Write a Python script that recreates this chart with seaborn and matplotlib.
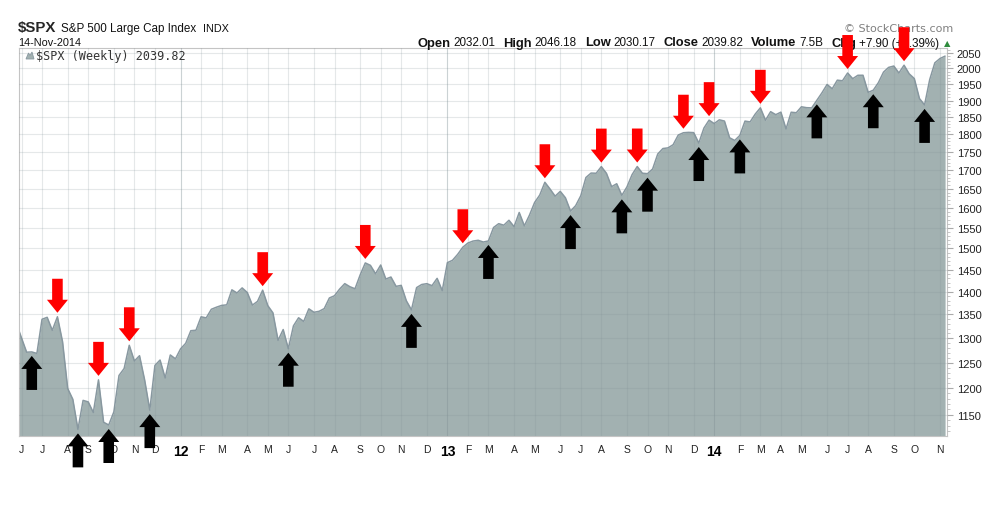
import numpy as np
import pandas as pd
import matplotlib
matplotlib.use("Agg")
import matplotlib.pyplot as plt
import matplotlib.dates as mdates
import matplotlib.transforms as mtransforms
from matplotlib.patches import Polygon
from matplotlib.ticker import FixedLocator, NullFormatter, FuncFormatter
import seaborn as sns

# ---------------- data ----------------
start_date = "2011-05-27"
closes = [
    1331.10, 1300.16, 1270.98, 1271.50, 1268.45, 1339.67, 1343.80, 1316.14, 1345.02, 1292.28,
    1199.38, 1178.81, 1123.53, 1176.80, 1173.97, 1154.23, 1216.01, 1136.43, 1131.42, 1155.46,
    1224.58, 1238.25, 1285.09, 1253.23, 1263.85, 1215.65, 1158.67, 1244.28, 1255.19, 1219.66,
    1265.33, 1257.60, 1277.81, 1289.09, 1315.38, 1316.33, 1344.90, 1342.64, 1361.23, 1365.74,
    1369.63, 1370.87, 1404.17, 1397.11, 1408.47, 1398.08, 1370.26, 1378.53, 1403.36, 1369.10,
    1353.39, 1295.22, 1317.82, 1278.04, 1325.66, 1342.84, 1335.02, 1362.16, 1354.68, 1356.78,
    1362.66, 1385.97, 1390.99, 1405.87, 1418.16, 1411.13, 1406.58, 1437.92, 1465.77, 1460.15,
    1440.67, 1460.93, 1428.59, 1433.19, 1411.94, 1414.20, 1379.85, 1359.88, 1409.15, 1416.18,
    1418.07, 1413.58, 1430.15, 1402.43, 1466.47, 1472.05, 1485.98, 1502.96, 1513.17, 1517.93,
    1519.79, 1515.60, 1518.20, 1551.18, 1560.70, 1556.89, 1569.19, 1553.28, 1588.85, 1555.25,
    1582.24, 1614.42, 1633.70, 1667.47, 1649.60, 1630.74, 1643.38, 1626.73, 1592.43, 1606.28,
    1631.89, 1680.19, 1692.09, 1691.65, 1709.67, 1691.42, 1655.83, 1663.50, 1632.97, 1655.17,
    1687.99, 1709.91, 1691.75, 1690.50, 1703.20, 1744.50, 1759.77, 1761.64, 1770.61, 1798.18,
    1804.76, 1805.81, 1805.09, 1775.32, 1818.32, 1841.40, 1831.37, 1842.37, 1838.70, 1790.29,
    1782.59, 1797.02, 1838.63, 1836.25, 1859.45, 1878.04, 1841.13, 1866.52, 1857.62, 1865.09,
    1815.69, 1864.85, 1863.40, 1881.14, 1878.48, 1877.86, 1900.53, 1923.57, 1949.44, 1936.16,
    1962.87, 1960.96, 1985.44, 1967.57, 1978.22, 1978.34, 1925.15, 1931.59, 1955.06, 1988.40,
    2003.37, 2007.71, 1985.54, 2010.40, 1982.85, 1967.90, 1906.13, 1886.76, 1964.58, 2018.05,
    2031.92, 2039.82,
]
peak_dates = ["2011-07-22", "2011-09-16", "2011-10-28", "2012-04-27", "2012-09-14",
              "2013-01-25", "2013-05-17", "2013-08-02", "2013-09-20", "2013-11-22",
              "2013-12-27", "2014-03-07", "2014-07-04", "2014-09-19"]
trough_dates = ["2011-06-17", "2011-08-19", "2011-09-30", "2011-11-25", "2012-06-01",
                "2012-11-16", "2013-03-01", "2013-06-21", "2013-08-30", "2013-10-04",
                "2013-12-13", "2014-02-07", "2014-05-23", "2014-08-08", "2014-10-17"]
y_ticks = list(range(1150, 2051, 50))
month_letters = ["J", "F", "M", "A", "M", "J", "J", "A", "S", "O", "N", "D"]
title_sym = "$SPX"
title_name = "S&P 500 Large Cap Index"
title_exch = "INDX"
date_text = "14-Nov-2014"
quote_parts = [("Open", True), ("2032.01", False), ("High", True), ("2046.18", False),
               ("Low", True), ("2030.17", False), ("Close", True), ("2039.82", False),
               ("Volume", True), ("7.5B", False), ("Chg", True), ("+7.90 (+0.39%)", False)]
legend_text = "$SPX (Weekly) 2039.82"
brand_text = "\u00a9 StockCharts.com"

dates = pd.date_range(start_date, periods=len(closes), freq="7D")
df = pd.DataFrame({"date": dates, "close": closes})
series = pd.Series(closes, index=dates)

# ---------------- figure ----------------
W, H = 1008, 510
sns.set_style("white")
plt.rcParams["font.family"] = ["Liberation Sans", "DejaVu Sans"]
fig = plt.figure(figsize=(W / 100, H / 100), dpi=100)
ax = fig.add_axes([19 / W, 1 - 437 / H, (947 - 19) / W, (437 - 49) / H])

FILL = "#a2b1b1"
EDGE = "#8898a0"
ax.fill_between(df["date"], df["close"], 1000, color=FILL, lw=0, zorder=1)
sns.lineplot(data=df, x="date", y="close", ax=ax, color=EDGE, lw=1.1, zorder=2)

ax.set_yscale("log")
ax.set_ylim(1111.7, 2066.4)
x0 = mdates.date2num(dates[0])
ax.set_xlim(x0 + 0.51 * 7, x0 + 181.37 * 7)
ax.set_xlabel("")
ax.set_ylabel("")

# y axis on right
ax.yaxis.tick_right()
ax.yaxis.set_major_locator(FixedLocator(y_ticks))
ax.yaxis.set_major_formatter(FuncFormatter(lambda v, p: f"{int(round(v))}"))
ax.yaxis.set_minor_locator(FixedLocator([v for v in range(1120, 2070, 10) if v % 50]))
ax.yaxis.set_minor_formatter(NullFormatter())
ax.tick_params(axis="y", which="major", length=4, width=0.8, color="#aaaaaa",
               pad=3, labelsize=8, labelcolor="#222222", left=False, right=True)
ax.tick_params(axis="y", which="minor", length=2, width=0.6, color="#bbbbbb",
               left=False, right=True)

# x axis: first bar of each month
month_first = df.groupby([df["date"].dt.year, df["date"].dt.month])["date"].first()
xt, xl, is_year = [], [], []
for (yy, mm), d in month_first.items():
    if d < dates[1]:
        continue
    xt.append(mdates.date2num(d))
    if mm == 1:
        xl.append(f"{yy % 100:02d}")
        is_year.append(True)
    else:
        xl.append(month_letters[mm - 1])
        is_year.append(False)
ax.xaxis.set_major_locator(FixedLocator(xt))
ax.set_xticklabels(xl)
ax.xaxis.set_minor_locator(FixedLocator(mdates.date2num(dates)))
ax.tick_params(axis="x", which="major", length=3, width=0.8, color="#aaaaaa",
               pad=3, labelsize=7.5, labelcolor="#222222")
ax.tick_params(axis="x", which="minor", length=1.5, width=0.6, color="#bbbbbb")
for lab, yr in zip(ax.get_xticklabels(), is_year):
    if yr:
        lab.set_fontweight("bold")
        lab.set_fontsize(10)
        lab.set_color("#000000")

# grid
ax.set_axisbelow(False)
ax.grid(True, which="major", color="#7f8f95", alpha=0.2, lw=0.8)
for gl, yr in zip(ax.xaxis.get_gridlines(), is_year):
    if yr:
        gl.set_alpha(0.4)

for sp in ax.spines.values():
    sp.set_color("#c4c4c4")
    sp.set_linewidth(0.8)

# ---------------- arrows ----------------
GAP, HEAD, TOTAL, HW, SW = 4, 13, 34, 10.5, 5.3


def add_arrow(date, direction, color):
    d = pd.Timestamp(date)
    val = series[d]
    trans = mtransforms.ScaledTranslation(mdates.date2num(d), val, ax.transData)
    s = direction  # +1 above pointing down, -1 below pointing up
    verts = [(0, s * GAP), (-HW, s * (GAP + HEAD)), (-SW, s * (GAP + HEAD)),
             (-SW, s * (GAP + TOTAL)), (SW, s * (GAP + TOTAL)), (SW, s * (GAP + HEAD)),
             (HW, s * (GAP + HEAD))]
    p = Polygon(verts, closed=True, facecolor=color, edgecolor="none",
                transform=trans, zorder=10)
    fig.add_artist(p)


for d in peak_dates:
    add_arrow(d, 1, "#ff0000")
for d in trough_dates:
    add_arrow(d, -1, "#000000")

# ---------------- header texts ----------------
def fx(px):
    return px / W


def fy(py):
    return 1 - py / H


fig.canvas.draw()
r = fig.canvas.get_renderer()

t1 = fig.text(fx(18), fy(32), title_sym, fontsize=10.8, fontweight="bold", va="baseline")
x = 18 + t1.get_window_extent(r).width + 5
t2 = fig.text(fx(x), fy(32), title_name, fontsize=8.4, va="baseline", color="#111111")
x += t2.get_window_extent(r).width + 6
fig.text(fx(x), fy(32), title_exch, fontsize=7.8, va="baseline", color="#111111")

fig.text(fx(18), fy(46.5), date_text, fontsize=7.8, va="baseline", color="#111111")

x = 417
for i, (txt, bold) in enumerate(quote_parts):
    t = fig.text(fx(x), fy(46.5), txt, fontsize=9.3 if bold else 8.4,
                 fontweight="bold" if bold else "normal", va="baseline", color="#111111")
    x += t.get_window_extent(r).width + (3 if bold else 8)
fig.text(fx(x - 3), fy(46.5), "\u25b2", fontsize=6, va="baseline",
         color="#2e8b3c", family=["DejaVu Sans"])

fig.text(fx(953), fy(32), brand_text, fontsize=8, ha="right", va="baseline",
         color="#808080", family=["DejaVu Sans"])

# legend inside plot
icon = Polygon([(fx(26), fy(60)), (fx(28.5), fy(54)), (fx(30), fy(56.5)), (fx(32), fy(53)),
                (fx(34), fy(60))], closed=True, transform=fig.transFigure,
               facecolor=FILL, edgecolor=EDGE, lw=0.6, zorder=6)
fig.add_artist(icon)
fig.text(fx(36), fy(60), legend_text, fontsize=8.5, va="baseline", color="#333333",
         family=["DejaVu Sans Mono"])

fig.savefig("out.png", dpi=100)
